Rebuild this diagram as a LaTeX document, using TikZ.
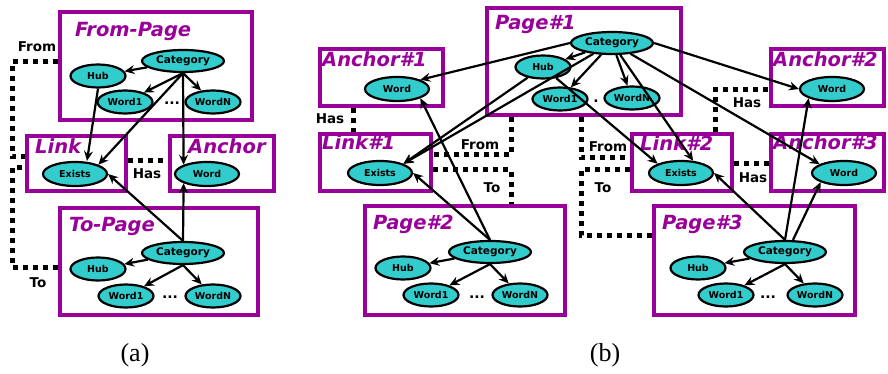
\documentclass[tikz,border=0pt]{standalone}
\usepackage{fontspec}
\setmainfont{Liberation Serif}
\setsansfont{DejaVu Sans}
\usepackage{tikz}
\usetikzlibrary{shapes.geometric,arrows.meta,positioning,calc}
\definecolor{boxpurple}{RGB}{153,0,153}
\definecolor{nodeteal}{RGB}{51,204,204}

\begin{document}
\begin{tikzpicture}[x=1pt, y=-1pt,
  pagebox/.style={draw=boxpurple, line width=4pt, rectangle, inner sep=0pt},
  boxtitle/.style={anchor=base west, text=boxpurple, inner sep=0pt, font=\sffamily\bfseries\itshape\fontsize{19.5}{20}\selectfont},
  wordnode/.style={ellipse, draw, line width=2.2pt, fill=nodeteal, inner sep=0pt, minimum width=55pt, minimum height=23pt, font=\sffamily\bfseries\fontsize{9.5}{10}\selectfont},
  catnode/.style={wordnode, minimum width=82pt, minimum height=22pt, font=\sffamily\bfseries\fontsize{10.5}{11}\selectfont},
  linknode/.style={wordnode, minimum width=64pt, minimum height=24pt},
  rellabel/.style={font=\sffamily\bfseries\fontsize{13.5}{14}\selectfont, inner sep=0pt},
  moredots/.style={font=\sffamily\bfseries\fontsize{14}{14}\selectfont, inner sep=0pt},
  linkdot/.style={line width=5pt, dash pattern=on 5pt off 5pt},
  arr/.style={-{Stealth[length=10pt,width=9pt,inset=3.5pt]}, line width=2.2pt},
]
\useasboundingbox (0,0) rectangle (888,374);

%%%%%%%%%%%%%%%%%%%% (a) %%%%%%%%%%%%%%%%%%%%
% From-Page
\node[pagebox, minimum width=192pt, minimum height=108pt] (fromp) at (156,66) {};
\node[boxtitle] (fromptitle) at (75,37) {From-Page};
\node[moredots] (fromdots) at (172,103) {...};
\node[catnode] (catA1) at (183,61) {Category};
\node[wordnode] (hubA1) at (98,76) {Hub};
\node[wordnode] (wA1) at (125,102) {Word1};
\node[wordnode] (nA1) at (213,102) {WordN};

% Link and Anchor
\node[pagebox, minimum width=99pt, minimum height=55pt] (linkA) at (76.5,163.5) {};
\node[boxtitle] (linkAtitle) at (35,154) {Link};
\node[linknode] (exA) at (75,174) {Exists};
\node[pagebox, minimum width=104pt, minimum height=55pt] (anchA) at (222,163.5) {};
\node[boxtitle] (anchAtitle) at (188,154) {Anchor};
\node[linknode] (wdA) at (207,174) {Word};

% To-Page
\node[pagebox, minimum width=198pt, minimum height=107pt] (top) at (159,261.5) {};
\node[boxtitle] (toptitle) at (69,231) {To-Page};
\node[moredots] (todots) at (170,297) {...};
\node[catnode] (catA2) at (183,253) {Category};
\node[wordnode] (hubA2) at (98,269) {Hub};
\node[wordnode] (wA2) at (126,296) {Word1};
\node[wordnode] (nA2) at (213,296) {WordN};

% relations
\draw[linkdot] ([yshift=4pt]fromp.west) -- ++(-46,0) |- ([yshift=6.5pt]linkA.west);
\draw[linkdot] ([yshift=-5.5pt]top.west) -- ++(-46,0) |- ([yshift=-4.5pt]linkA.west);
\draw[linkdot] ([yshift=2.5pt]linkA.east) -- ([yshift=2.5pt]anchA.west);
\node[rellabel] (fromA) at (37,47) {From};
\node[rellabel] (toA) at (38,283) {To};
\node[rellabel] (hasA) at (147,174) {Has};

% arrows
\draw[arr] (catA1) -- (hubA1);
\draw[arr] (catA1.south) -- (wA1);
\draw[arr] (catA1.south) -- (nA1);
\draw[arr] (hubA1.south) -- ([xshift=12pt]exA.north);
\draw[arr] (catA1.south) -- (exA.north east);
\draw[arr] (catA1.south) -- (wdA.north west);
\draw[arr] (catA2) -- (hubA2);
\draw[arr] (catA2.south) -- (wA2);
\draw[arr] (catA2.south) -- (nA2);
\draw[arr] (catA2.north) -- (exA.east);
\draw[arr] (catA2.north) -- (wdA.south west);

\node[font=\fontsize{26}{26}\selectfont] (capa) at (135,355) {(a)};

%%%%%%%%%%%%%%%%%%%% (b) %%%%%%%%%%%%%%%%%%%%
% Page#1
\node[pagebox, minimum width=194pt, minimum height=107pt] (page1) at (584,61.5) {};
\node[boxtitle] (page1title) at (495,30) {Page\#1};
\node[moredots] (dots1) at (596,101) {.};
\node[catnode] (cat1) at (612,43) {Category};
\node[wordnode] (hub1) at (543,67) {Hub};
\node[wordnode] (w1) at (560,99) {Word1};
\node[wordnode] (n1) at (632,98) {WordN};

% Anchors and Links
\node[pagebox, minimum width=123pt, minimum height=57pt] (anch1) at (381.5,77.5) {};
\node[boxtitle] (anch1title) at (322,67) {Anchor\#1};
\node[linknode] (wd1) at (397,89) {Word};
\node[pagebox, minimum width=111pt, minimum height=57pt] (link1) at (375.5,162.5) {};
\node[boxtitle] (link1title) at (322,150) {Link\#1};
\node[linknode] (ex1) at (380,173) {Exists};
\node[pagebox, minimum width=100pt, minimum height=57pt] (link2) at (682,162.5) {};
\node[boxtitle] (link2title) at (640,151) {Link\#2};
\node[linknode] (ex2) at (681,173) {Exists};
\node[pagebox, minimum width=113pt, minimum height=57pt] (anch2) at (827.5,77.5) {};
\node[boxtitle] (anch2title) at (773,67) {Anchor\#2};
\node[linknode] (wd2) at (832,89) {Word};
\node[pagebox, minimum width=113pt, minimum height=57pt] (anch3) at (827.5,162.5) {};
\node[boxtitle] (anch3title) at (773,150) {Anchor\#3};
\node[linknode] (wd3) at (844,173) {Word};

% Page#2
\node[pagebox, minimum width=200pt, minimum height=109pt] (page2) at (465,260.5) {};
\node[boxtitle] (page2title) at (373,229) {Page\#2};
\node[moredots] (dots2) at (477,297) {...};
\node[catnode] (cat2) at (490,252) {Category};
\node[wordnode] (hub2) at (403,268) {Hub};
\node[wordnode] (w2) at (431,295) {Word1};
\node[wordnode] (n2) at (520,295) {WordN};

% Page#3
\node[pagebox, minimum width=201pt, minimum height=109pt] (page3) at (754.5,260.5) {};
\node[boxtitle] (page3title) at (662,229) {Page\#3};
\node[moredots] (dots3) at (768,297) {...};
\node[catnode] (cat3) at (785,252) {Category};
\node[wordnode] (hub3) at (698,268) {Hub};
\node[wordnode] (w3) at (726,295) {Word1};
\node[wordnode] (n3) at (815,295) {WordN};

% relations
\draw[linkdot] (page1.south -| 511,0) |- ([yshift=7.5pt]link1.east);
\draw[linkdot] ([yshift=-7.5pt]link1.east) -| (page2.north -| 511,0);
\draw[linkdot] (page1.south -| 581,0) |- ([yshift=4.5pt]link2.west);
\draw[linkdot] ([yshift=-7.5pt]link2.west) -| (581,235) -- ([yshift=25.5pt]page3.west);
\draw[linkdot] (anch1.south -| 353,0) -- (link1.north -| 353,0);
\draw[linkdot] (link2.north -| 715,0) |- ([yshift=-12.5pt]anch2.west);
\draw[linkdot] ([yshift=-1.5pt]link2.east) -- ([yshift=-1.5pt]anch3.west);
\node[rellabel] (has1) at (330,119) {Has};
\node[rellabel] (from1) at (480,145) {From};
\node[rellabel] (to1) at (492,188) {To};
\node[rellabel] (from2) at (608,147) {From};
\node[rellabel] (to2) at (603,188) {To};
\node[rellabel] (has2) at (747,103) {Has};
\node[rellabel] (has3) at (753,178) {Has};

% arrows
\draw[arr] (cat1) -- (hub1);
\draw[arr] (cat1) -- (w1);
\draw[arr] (cat1) -- (n1);
\draw[arr] (cat1.west) -- (wd1.north east);
\draw[arr] (cat1) -- (ex1.north east);
\draw[arr] (hub1) -- (ex1.north east);
\draw[arr] (cat1) -- (ex2.45);
\draw[arr] (hub1) -- (ex2.north west);
\draw[arr] (cat1.east) -- (wd2.west);
\draw[arr] (cat1) -- (wd3.160);
\draw[arr] (cat2) -- (hub2);
\draw[arr] (cat2.south) -- (w2);
\draw[arr] (cat2.south) -- (n2);
\draw[arr] (cat2.north) -- (wd1.south east);
\draw[arr] (cat2.north) -- (ex1.east);
\draw[arr] (cat3) -- (hub3);
\draw[arr] (cat3.south) -- (w3);
\draw[arr] (cat3.south) -- (n3);
\draw[arr] (cat3.north) -- (ex2.east);
\draw[arr] (cat3.north) -- (wd2.south west);
\draw[arr] ([xshift=8pt]cat3.north) -- (wd3.south west);

\node[font=\fontsize{26}{26}\selectfont] (capb) at (605,355) {(b)};
\end{tikzpicture}
\end{document}
